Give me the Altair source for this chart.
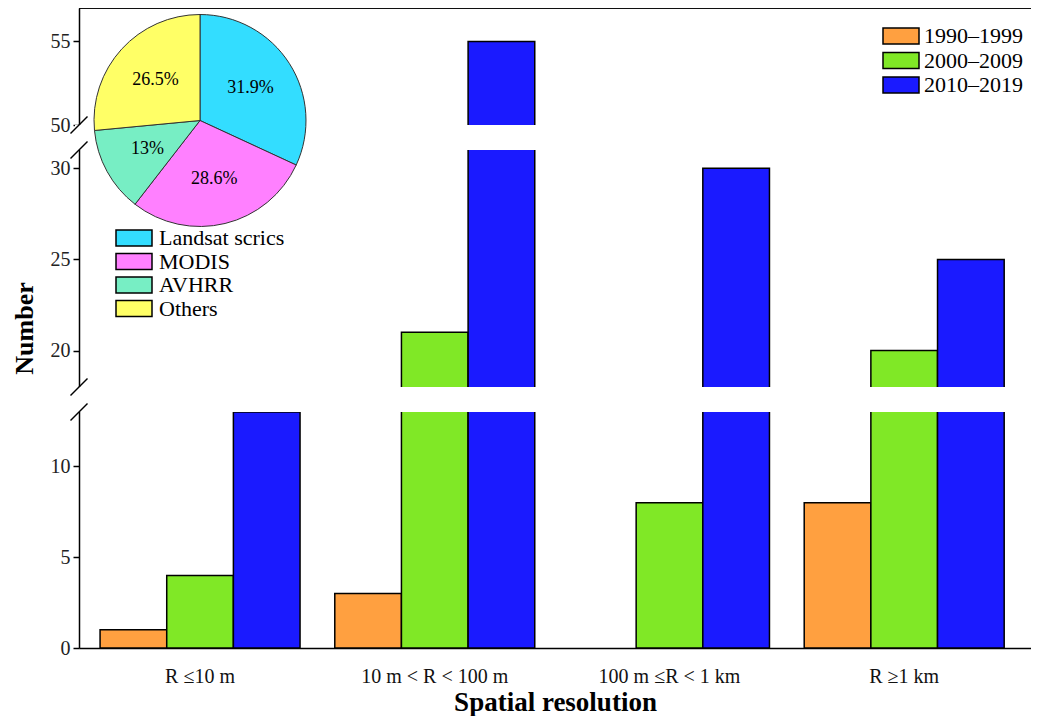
import altair as alt
import pandas as pd

# ---------------- data ----------------
categories = ["R \u226410 m", "10 m < R < 100 m", "100 m \u2264R < 1 km", "R \u22651 km"]
periods = ["1990\u20131999", "2000\u20132009", "2010\u20132019"]
counts_1990s = [1, 3, 0, 8]
counts_2000s = [4, 21, 8, 20]
counts_2010s = [13, 55, 30, 25]
period_colors = ["#FFA040", "#80E826", "#1A1AFF"]

sensors = ["Landsat scrics", "MODIS", "AVHRR", "Others"]
sensor_share = [31.9, 28.6, 13.0, 26.5]
sensor_labels = ["31.9%", "28.6%", "13%", "26.5%"]
sensor_colors = ["#33DDFF", "#FF80FF", "#77EEC4", "#FFFF66"]

y_ticks = [0, 5, 10, 20, 25, 30, 50, 55]
break_low = [13, 31]
break_high = [18, 50]

# ---------------- layout ----------------
W, H = 952, 640
seg_domain = [0, 13, 18, 31, 50, 57]
seg_range = [640, 404, 379, 142, 117, 0]
FONT = "Liberation Serif"

rows = []
for ci, c in enumerate(categories):
    for pi, (p, vals) in enumerate(zip(periods, [counts_1990s, counts_2000s, counts_2010s])):
        rows.append({"category": c, "period": p, "value": vals[ci]})
bars_df = pd.DataFrame(rows)

gaps_df = pd.DataFrame({"lo": break_low, "hi": break_high})
breaks_df = pd.DataFrame({"b": break_low + break_high})
pie_df = pd.DataFrame({"sensor": sensors, "share": sensor_share,
                       "label": sensor_labels, "idx": list(range(len(sensors)))})

yscale = alt.Scale(domain=seg_domain, range=seg_range, nice=False, zero=False)
rect_path = "M-2.25,-1H2.25V1H-2.25Z"

bars = alt.Chart(bars_df).transform_filter("datum.value > 0").mark_bar(
    stroke="black", strokeWidth=1.5).encode(
    x=alt.X("category:N", sort=categories,
            scale=alt.Scale(paddingInner=0.148, paddingOuter=0.102, align=0.44),
            axis=alt.Axis(title="Spatial resolution", labelAngle=0, ticks=False, tickSize=0,
                          labelPadding=18, labelFontSize=20, labelFont=FONT, labelColor="#111111",
                          domainColor="black", domainWidth=1.5,
                          titleFontSize=27, titleFont=FONT, titleFontWeight="bold",
                          titleColor="black", titleBaseline="alphabetic", titleY=62)),
    xOffset=alt.XOffset("period:N", sort=periods,
                        scale=alt.Scale(paddingInner=0, paddingOuter=0)),
    y=alt.Y("value:Q", scale=yscale,
            axis=alt.Axis(values=y_ticks, title="Number", grid=False,
                          domainColor="black", domainWidth=1.5,
                          tickColor="black", tickWidth=1.5, tickSize=6,
                          labelFontSize=20, labelFont=FONT, labelColor="#222222", labelPadding=3,
                          titleFontSize=26, titleFont=FONT, titleFontWeight="bold",
                          titleColor="black", titleBaseline="alphabetic",
                          titleX=-47, titleY=320, titleAngle=-90)),
    fill=alt.Fill("period:N", sort=periods,
                  scale=alt.Scale(domain=periods, range=period_colors),
                  legend=alt.Legend(orient="none", legendX=811, legendY=17, title=None,
                                    symbolType=rect_path, symbolSize=256,
                                    symbolStrokeColor="black", symbolStrokeWidth=1.5,
                                    labelFontSize=22, labelFont=FONT, labelColor="black",
                                    labelOffset=12, rowPadding=2.5, padding=0, labelLimit=0)),
)

gaps = alt.Chart(gaps_df).mark_rect(fill="white").encode(
    y=alt.Y("lo:Q", scale=yscale, title="Number"),
    y2="hi:Q",
    x=alt.value(-4),
    x2=alt.value(W + 2),
)

slashes = alt.Chart(breaks_df).mark_rule(color="black", strokeWidth=1.5,
                                         yOffset=8.5, y2Offset=-8.5).encode(
    y=alt.Y("b:Q", scale=yscale, title="Number"),
    y2="b:Q",
    x=alt.value(-8.5),
    x2=alt.value(8.5),
)

top_line = alt.Chart(gaps_df).mark_rule(color="black", strokeWidth=1.5).encode(
    x=alt.value(0), x2=alt.value(W), y=alt.value(0)
)

pie = alt.Chart(pie_df).mark_arc(outerRadius=106, stroke="#333333", strokeWidth=1).encode(
    theta=alt.Theta("share:Q", stack=True),
    order=alt.Order("idx:Q"),
    fill=alt.Fill("sensor:N", sort=sensors,
                  scale=alt.Scale(domain=sensors, range=sensor_colors),
                  legend=alt.Legend(orient="none", legendX=44, legendY=219, title=None,
                                    symbolType=rect_path, symbolSize=256,
                                    symbolStrokeColor="black", symbolStrokeWidth=1.5,
                                    labelFontSize=22, labelFont=FONT, labelColor="black",
                                    labelOffset=14, rowPadding=1.5, padding=0, labelLimit=0)),
    x=alt.value(121),
    y=alt.value(112.5),
)

pie_text = alt.Chart(pie_df).mark_text(radius=60, fontSize=18, font=FONT, color="black").encode(
    theta=alt.Theta("share:Q", stack=True),
    order=alt.Order("idx:Q"),
    text="label:N",
    x=alt.value(121),
    y=alt.value(112.5),
)

chart = alt.layer(bars, gaps, slashes, top_line, pie, pie_text).resolve_scale(
    fill="independent"
).properties(
    width=W, height=H,
    autosize=alt.AutoSizeParams(type="none"),
    padding={"left": 71, "top": 0, "right": 0, "bottom": 68},
).configure(font=FONT).configure_view(stroke=None)

chart.save("out.html", embed_options={"renderer": "svg", "actions": False})
